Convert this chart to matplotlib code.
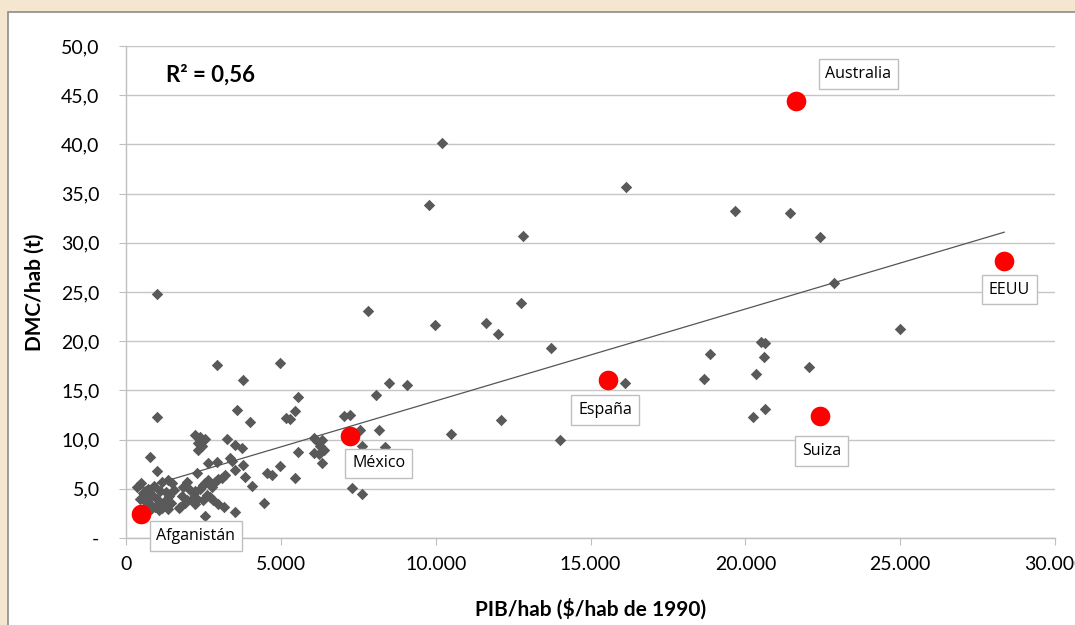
import matplotlib
matplotlib.use("Agg")
import matplotlib.pyplot as plt
import numpy as np
from matplotlib import font_manager as fm
from matplotlib.patches import Rectangle
from matplotlib.ticker import FixedLocator, FuncFormatter

def pick(names):
    for n in names:
        try:
            fm.findfont(n, fallback_to_default=False)
            return n
        except Exception:
            pass
    return "DejaVu Sans"

NARROW = pick(["Lato", "Open Sans"])
LABEL = pick(["Open Sans", "Noto Sans", "DejaVu Sans"])

# ---------------- data ----------------
gray_x = [10200, 9770, 16150, 12820, 19660, 21450, 22400, 22870, 12770, 7800,
          25000, 9990, 11630, 12020, 13730, 20520, 20650, 18860, 20600, 22060,
          20330, 18660, 16100, 20630, 20260, 12120, 14030, 10510, 8480, 9075,
          8080, 1000, 1000, 2940, 3790, 4980, 3580, 4010, 5570, 5460,
          5180, 5290, 7030, 7240, 7570, 8160, 7620, 8370, 7300, 7620,
          6060, 6170, 6330, 6280, 6380, 6060, 6220, 6330, 5560, 2230,
          2390, 2550, 2340, 2450, 2340, 3260, 3520, 3750, 2650, 2930,
          3370, 3420, 3530, 3770, 3200, 3100, 4980, 4550, 4710, 3850,
          5460, 2290, 4070, 4460, 3520, 3170, 2550, 760, 990, 470,
          340, 1150, 1370, 1480, 1830, 1960, 2070, 2230, 1800, 1960,
          1750, 1910, 1700, 2230, 2390, 2500, 2550, 2660, 2120, 2280,
          2230, 2710, 2770, 2870, 2980, 2600, 2500, 2820, 2960, 550,
          700, 850, 1000, 1100, 1250, 1400, 600, 800, 950, 1150,
          1300, 1450, 700, 900, 1100, 1300, 1550, 450, 650, 1050,
          1350, 800]
gray_y = [40.1, 33.8, 35.7, 30.7, 33.2, 33.0, 30.6, 25.9, 23.9, 23.1,
          21.2, 21.6, 21.8, 20.7, 19.3, 19.95, 19.85, 18.7, 18.4, 17.4,
          16.7, 16.2, 15.8, 13.1, 12.3, 12.0, 9.95, 10.6, 15.8, 15.5,
          14.5, 24.8, 12.3, 17.6, 16.1, 17.8, 13.0, 11.8, 14.3, 12.9,
          12.2, 12.05, 12.4, 12.5, 11.0, 11.0, 9.35, 9.2, 5.1, 4.5,
          10.2, 9.85, 9.95, 9.3, 8.9, 8.6, 8.55, 7.65, 8.7, 10.5,
          10.3, 10.1, 9.7, 9.3, 8.9, 10.1, 9.45, 9.1, 7.65, 7.7,
          8.15, 7.8, 6.9, 7.4, 6.4, 6.1, 7.3, 6.6, 6.4, 6.2,
          6.1, 6.6, 5.3, 3.6, 2.6, 3.1, 2.2, 8.2, 6.85, 5.6,
          5.2, 5.7, 5.9, 5.55, 5.15, 5.7, 4.9, 4.75, 4.3, 3.9,
          3.2, 3.55, 3.0, 4.7, 5.0, 5.4, 5.55, 5.9, 4.0, 4.0,
          3.5, 4.15, 5.2, 5.7, 6.0, 4.4, 3.9, 3.9, 3.5, 4.6,
          4.2, 4.4, 4.0, 3.6, 3.8, 4.3, 3.8, 3.4, 3.1, 3.0,
          3.3, 3.6, 5.0, 5.3, 4.8, 4.7, 4.9, 4.0, 3.2, 2.8,
          2.9, 2.9]

countries = ["Australia", "EEUU", "España", "Suiza", "México", "Afganistán"]
red_x = [21630, 28360, 15560, 22400, 7220, 500]
red_y = [44.4, 28.2, 16.1, 12.35, 10.35, 2.45]
# label offsets (points)
label_dx = [45, 3.6, -2, 1.5, 21, 39]
label_dy = [19.4, -21, -22, -25, -19.5, -16]

r2_text = "R² = 0,56"
y_ticks = [0, 5, 10, 15, 20, 25, 30, 35, 40, 45, 50]
x_ticks = [0, 5000, 10000, 15000, 20000, 25000, 30000]
x_label = "PIB/hab ($/hab de 1990)"
y_label = "DMC/hab (t)"

# ---------------- figure ----------------
W, H = 1075, 625
fig = plt.figure(figsize=(W / 100, H / 100), dpi=100)
fig.patch.set_facecolor("#f4e6cf")

# background axes holding the white chart panel
bg = fig.add_axes([0, 0, 1, 1], zorder=-5)
bg.set_xlim(0, W)
bg.set_ylim(H, 0)
bg.axis("off")
bg.add_patch(Rectangle((8, 12), W + 20, H + 20, facecolor="white",
                       edgecolor="#8c8c8c", linewidth=1.2))

ax = fig.add_axes([126 / W, (625 - 538) / H, 929 / W, 492 / H], zorder=1)
ax.set_facecolor("none")
ax.set_xlim(0, 30000)
ax.set_ylim(0, 50)

for s in ["top", "right"]:
    ax.spines[s].set_visible(False)
for s in ["left", "bottom"]:
    ax.spines[s].set_color("#bfbfbf")
    ax.spines[s].set_linewidth(1.0)

ax.yaxis.set_major_locator(FixedLocator(y_ticks))
ax.xaxis.set_major_locator(FixedLocator(x_ticks))
ax.yaxis.set_major_formatter(FuncFormatter(
    lambda v, p: "-" if v == 0 else f"{v:.1f}".replace(".", ",")))
ax.xaxis.set_major_formatter(FuncFormatter(
    lambda v, p: f"{int(v):,}".replace(",", ".")))
ax.tick_params(axis="both", direction="out", length=5, color="#bfbfbf",
               labelsize=14, labelcolor="black")
ax.tick_params(axis="y", pad=14)
ax.tick_params(axis="x", pad=8)
for lab in ax.get_xticklabels() + ax.get_yticklabels():
    lab.set_fontfamily(NARROW)

ax.grid(axis="y", color="#c6c6c6", linewidth=1.0)
ax.set_axisbelow(True)

ax.scatter(gray_x, gray_y, marker="D", s=34, color="#595959",
           linewidths=0, zorder=3)

# trend line (linear fit over all points)
all_x = np.array(gray_x + red_x, dtype=float)
all_y = np.array(gray_y + red_y, dtype=float)
m, b = np.polyfit(all_x, all_y, 1)
xs = np.array([all_x.min(), all_x.max()])
ax.plot(xs, m * xs + b, color="#555555", linewidth=0.9, zorder=4)

ax.scatter(red_x, red_y, marker="o", s=200, color="#ff0000",
           linewidths=0, zorder=5)

for name, x, y, dx, dy in zip(countries, red_x, red_y, label_dx, label_dy):
    ax.annotate(name, (x, y), xytext=(dx, dy), textcoords="offset points",
                ha="center", va="center", fontsize=11.5, family=LABEL,
                bbox=dict(boxstyle="square,pad=0.42", facecolor="white",
                          edgecolor="#bfbfbf", linewidth=1.0), zorder=6)

ax.text(1300, 47.0, r2_text, fontsize=16, fontweight="bold", family=NARROW,
        ha="left", va="center")

ax.set_xlabel(x_label, fontsize=15, fontweight="bold", family=NARROW,
              labelpad=18)
ax.set_ylabel(y_label, fontsize=15, fontweight="bold", family=NARROW,
              labelpad=12)

fig.savefig("out.png", dpi=100, facecolor=fig.get_facecolor())
